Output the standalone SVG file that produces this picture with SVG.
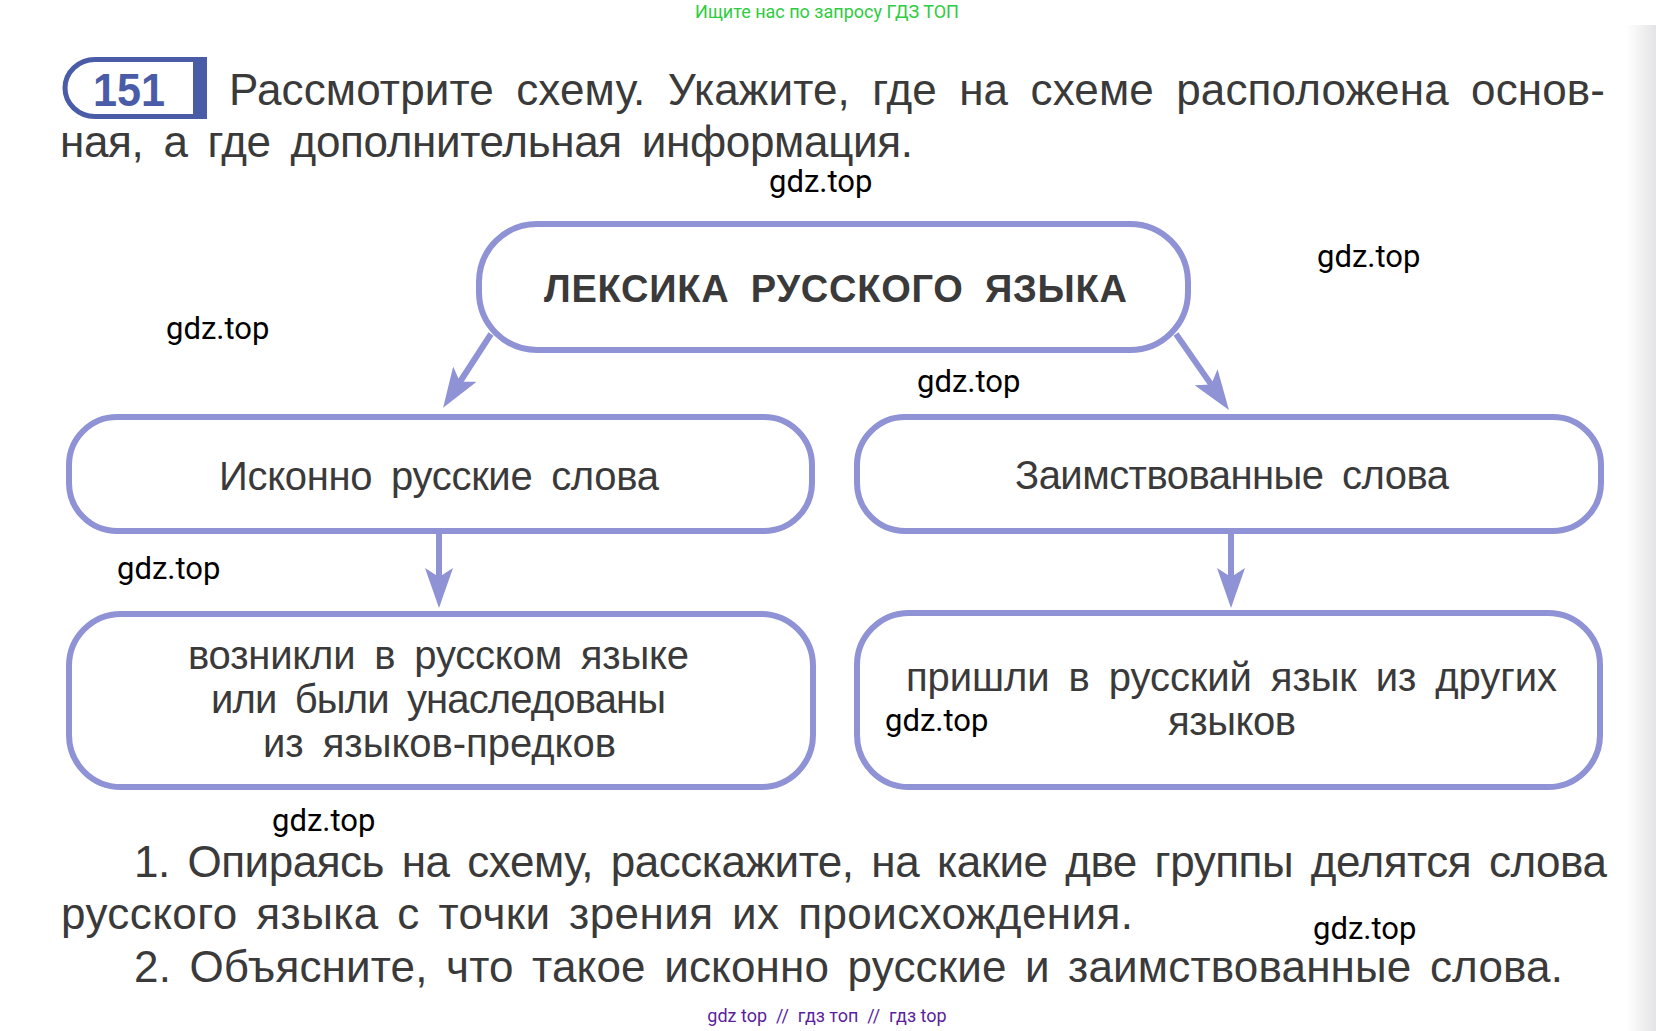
<svg xmlns="http://www.w3.org/2000/svg" width="1656" height="1031" viewBox="0 0 1656 1031">
  <defs>
    <linearGradient id="edge" x1="0" y1="0" x2="1" y2="0">
      <stop offset="0" stop-color="#ffffff"/>
      <stop offset="1" stop-color="#e4e4e6"/>
    </linearGradient>
    <marker id="arrow" viewBox="0 0 40 28" refX="20" refY="14" markerWidth="40" markerHeight="28" markerUnits="userSpaceOnUse" orient="auto">
      <path d="M0,0 L40,14 L0,28 L9,14 Z" fill="#8f92d4"/>
    </marker>
  </defs>
  <style>
    .box { fill: #ffffff; stroke: #8f92d4; stroke-width: 6; }
    .conn { fill: none; stroke: #8f92d4; stroke-width: 6; }
    .txt { font-family: "Liberation Sans", Arial, sans-serif; fill: #3a3a3a; }
    .big { font-size: 44px; }
    .lbl { font-size: 40px; }
    .head { font-size: 38px; font-weight: bold; }
    .wm { font-family: Roboto, "Liberation Sans", sans-serif; font-size: 31px; fill: #000000; }
  </style>

  <rect x="0" y="0" width="1656" height="1031" fill="#ffffff"/>
  <rect x="1626" y="25" width="30" height="1006" fill="url(#edge)"/>

  <!-- top banner -->
  <text x="827" y="18" text-anchor="middle" font-family="Roboto, 'Liberation Sans', sans-serif" font-size="18" fill="#2ecc40">Ищите нас по запросу ГДЗ ТОП</text>

  <!-- exercise number badge -->
  <g id="badge">
    <path d="M200,59.5 H95 A30,28.5 0 0 0 95,116.5 H200" fill="none" stroke="#4a5ca8" stroke-width="5"/>
    <rect x="193" y="57" width="14" height="62" fill="#4a5ca8"/>
    <text x="93" y="106" font-family="'Liberation Sans', Arial, sans-serif" font-size="46" font-weight="bold" fill="#4a5ca8" textLength="72" lengthAdjust="spacingAndGlyphs">151</text>
  </g>

  <!-- heading -->
  <text class="txt big" x="229" y="105" word-spacing="10" textLength="1376" lengthAdjust="spacing">Рассмотрите схему. Укажите, где на схеме расположена основ-</text>
  <text class="txt big" x="60" y="157" word-spacing="8" textLength="853" lengthAdjust="spacing">ная, а где дополнительная информация.</text>

  <!-- connectors -->
  <g id="connectors">
    <line class="conn" x1="491" y1="334" x2="454" y2="391" marker-end="url(#arrow)"/>
    <line class="conn" x1="1176" y1="334" x2="1217.5" y2="393.6" marker-end="url(#arrow)"/>
    <line class="conn" x1="439" y1="531" x2="439" y2="588" marker-end="url(#arrow)"/>
    <line class="conn" x1="1231" y1="531" x2="1231" y2="588" marker-end="url(#arrow)"/>
  </g>

  <!-- nodes -->
  <g id="node-lexika">
    <rect class="box" x="479" y="224" width="709" height="126" rx="58" ry="58"/>
    <text class="txt head" x="544" y="302" textLength="583" lengthAdjust="spacing" word-spacing="10">ЛЕКСИКА РУССКОГО ЯЗЫКА</text>
  </g>
  <g id="node-iskonno">
    <rect class="box" x="69" y="417" width="743" height="114" rx="48" ry="48"/>
    <text class="txt lbl" x="219" y="490" textLength="440" lengthAdjust="spacing" word-spacing="8">Исконно русские слова</text>
  </g>
  <g id="node-zaimstv">
    <rect class="box" x="857" y="417" width="744" height="114" rx="48" ry="48"/>
    <text class="txt lbl" x="1015" y="489" textLength="434" lengthAdjust="spacing" word-spacing="8">Заимствованные слова</text>
  </g>
  <g id="node-iskonno-def">
    <rect class="box" x="69" y="614" width="744" height="173" rx="52" ry="52"/>
    <text class="txt lbl" x="188" y="669" textLength="501" lengthAdjust="spacing" word-spacing="8">возникли в русском языке</text>
    <text class="txt lbl" x="211" y="713" textLength="455" lengthAdjust="spacing" word-spacing="8">или были унаследованы</text>
    <text class="txt lbl" x="263" y="757" textLength="353" lengthAdjust="spacing" word-spacing="8">из языков-предков</text>
  </g>
  <g id="node-zaimstv-def">
    <rect class="box" x="857" y="613" width="743" height="174" rx="52" ry="52"/>
    <text class="txt lbl" x="906" y="691" textLength="651" lengthAdjust="spacing" word-spacing="8">пришли в русский язык из других</text>
    <text class="txt lbl" x="1168" y="735" textLength="128" lengthAdjust="spacing">языков</text>
  </g>

  <!-- questions -->
  <text class="txt big" x="134" y="877" word-spacing="6" textLength="1473" lengthAdjust="spacing">1. Опираясь на схему, расскажите, на какие две группы делятся слова</text>
  <text class="txt big" x="61" y="929" word-spacing="6" textLength="1072" lengthAdjust="spacing">русского языка с точки зрения их происхождения.</text>
  <text class="txt big" x="134" y="982" word-spacing="6" textLength="1429" lengthAdjust="spacing">2. Объясните, что такое исконно русские и заимствованные слова.</text>

  <!-- watermarks -->
  <g id="watermarks">
    <text class="wm" x="769" y="192">gdz.top</text>
    <text class="wm" x="1317" y="267">gdz.top</text>
    <text class="wm" x="166" y="339">gdz.top</text>
    <text class="wm" x="917" y="392">gdz.top</text>
    <text class="wm" x="117" y="579">gdz.top</text>
    <text class="wm" x="885" y="731">gdz.top</text>
    <text class="wm" x="272" y="831">gdz.top</text>
    <text class="wm" x="1313" y="939">gdz.top</text>
  </g>

  <!-- footer -->
  <text x="827" y="1022" text-anchor="middle" font-family="Roboto, 'Liberation Sans', sans-serif" font-size="18" fill="#5b1f9e" xml:space="preserve">gdz top  //  гдз топ  //  гдз top</text>
</svg>
